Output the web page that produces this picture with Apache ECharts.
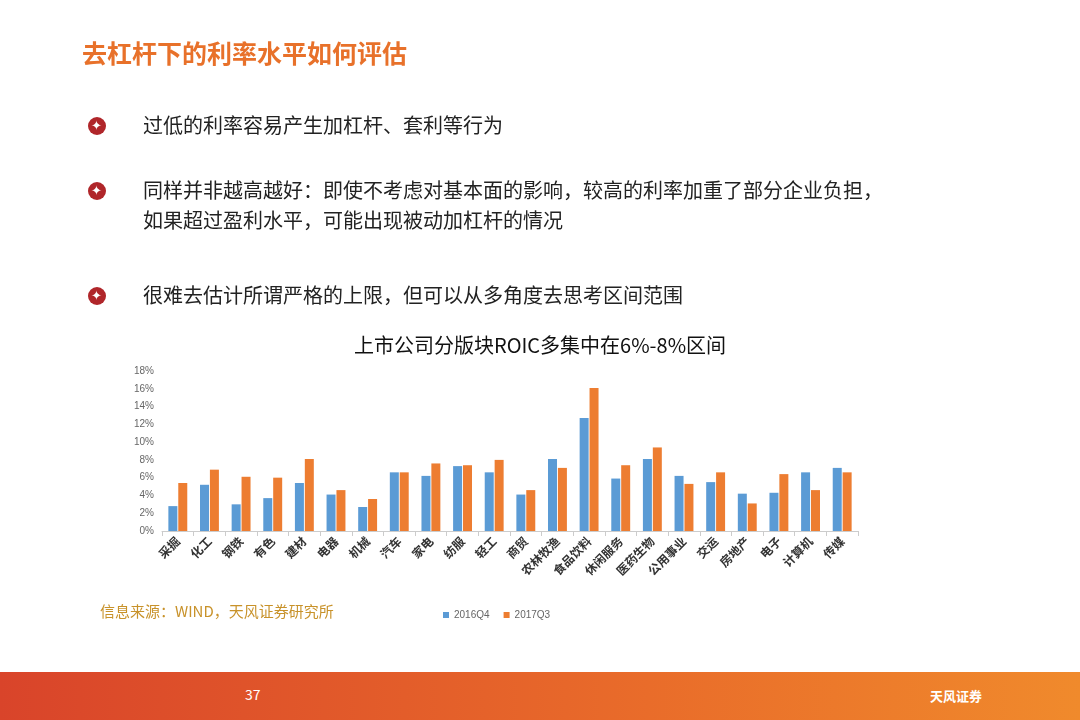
<!DOCTYPE html>
<html><head><meta charset="utf-8">
<script src="https://cdn.jsdelivr.net/npm/echarts@6/dist/echarts.min.js"></script>
<style>
body{margin:0;width:1080px;height:720px;position:relative;background:#fff;font-family:"Noto Sans CJK SC",sans-serif;overflow:hidden}
#c{position:absolute;left:0;top:0;width:1080px;height:720px}
.t{position:absolute;white-space:nowrap}
.b{position:absolute;left:88px;width:18px;height:18px;border-radius:50%;background:#b0262a}
.b:after{content:"✦";position:absolute;left:3px;top:-2px;color:#fff;font-size:13px}
.foot{position:absolute;left:0;top:672px;width:1080px;height:48px;background:linear-gradient(90deg,#d9442a,#e96c2a 60%,#f08a2c)}
</style></head><body>
<div id="c"></div>
<div class="t" style="left:82px;top:34px;font-size:25px;font-weight:bold;color:#e8712a">去杠杆下的利率水平如何评估</div>
<div class="b" style="top:117px"></div>
<div class="t" style="left:143px;top:110px;font-size:20px;color:#222">过低的利率容易产生加杠杆、套利等行为</div>
<div class="b" style="top:182px"></div>
<div class="t" style="left:143px;top:175px;font-size:20px;color:#222;line-height:30px">同样并非越高越好：即使不考虑对基本面的影响，较高的利率加重了部分企业负担，<br>如果超过盈利水平，可能出现被动加杠杆的情况</div>
<div class="b" style="top:287px"></div>
<div class="t" style="left:143px;top:280px;font-size:20px;color:#222">很难去估计所谓严格的上限，但可以从多角度去思考区间范围</div>
<div class="t" style="left:100px;top:600px;font-size:15px;color:#c8922a">信息来源：WIND，天风证券研究所</div>
<div class="foot"><div class="t" style="left:245px;top:12px;color:#fff;font-size:14px">37</div>
<div class="t" style="left:930px;top:14px;color:#fff;font-size:13px;font-weight:bold">天风证券</div></div>
<script>
const categories=["采掘","化工","钢铁","有色","建材","电器","机械","汽车","家电","纺服","轻工","商贸","农林牧渔","食品饮料","休闲服务","医药生物","公用事业","交运","房地产","电子","计算机","传媒"];
const s2016Q4=[2.8,5.2,3.0,3.7,5.4,4.1,2.7,6.6,6.2,7.3,6.6,4.1,8.1,12.7,5.9,8.1,6.2,5.5,4.2,4.3,6.6,7.1];
const s2017Q3=[5.4,6.9,6.1,6.0,8.1,4.6,3.6,6.6,7.6,7.4,8.0,4.6,7.1,16.1,7.4,9.4,5.3,6.6,3.1,6.4,4.6,6.6];
const ch=echarts.init(document.getElementById('c'));
ch.setOption({
 title:{text:'上市公司分版块ROIC多集中在6%-8%区间',left:'center',top:330,textStyle:{fontSize:20,fontWeight:'normal',color:'#111',fontFamily:'Noto Sans CJK SC'}},
 legend:{left:438,top:605,itemWidth:6,itemHeight:6,itemGap:14,icon:'rect',textStyle:{fontSize:10,color:'#666'}},
 grid:{left:162,right:222,top:371,bottom:189},
 xAxis:{type:'category',data:categories,axisTick:{show:true,lineStyle:{color:'#ccc'}},axisLine:{lineStyle:{color:'#ccc'}},
  axisLabel:{rotate:45,interval:0,fontSize:12,fontWeight:'bold',color:'#333',fontFamily:'Noto Sans CJK SC'}},
 yAxis:{type:'value',min:0,max:18,interval:2,splitLine:{show:false},axisLabel:{formatter:'{value}%',fontSize:10,color:'#666'}},
 series:[
  {name:'2016Q4',type:'bar',data:s2016Q4,itemStyle:{color:'#5b9bd5'},barWidth:9,barGap:'10%'},
  {name:'2017Q3',type:'bar',data:s2017Q3,itemStyle:{color:'#ed7d31'},barWidth:9}
 ]
});
</script></body></html>
